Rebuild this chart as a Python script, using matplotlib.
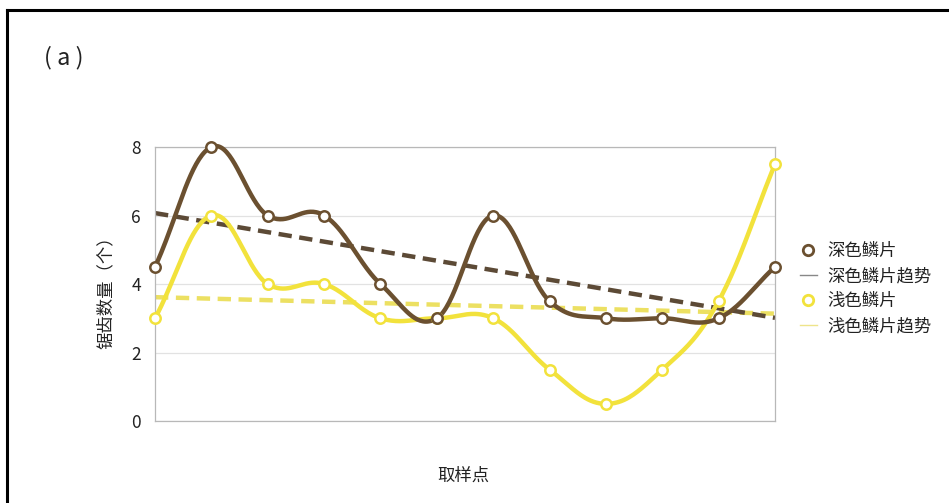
import numpy as np
import matplotlib
matplotlib.use("Agg")
import matplotlib.pyplot as plt
from matplotlib.lines import Line2D

plt.rcParams['font.family'] = ['Noto Sans CJK SC', 'DejaVu Sans']

# sampling points and counts
sample_points = np.arange(1, 13)
dark_scales = [4.5, 8, 6, 6, 4, 3, 6, 3.5, 3, 3, 3, 4.5]
light_scales = [3, 6, 4, 4, 3, 3, 3, 1.5, 0.5, 1.5, 3.5, 7.5]
y_ticks = [0, 2, 4, 6, 8]

series_names = ["深色鳞片", "深色鳞片趋势", "浅色鳞片", "浅色鳞片趋势"]
dark_color = "#6b5030"
dark_trend_color = "#5c4a36"
light_color = "#f2e23c"
light_trend_color = "#ece062"


def smooth_curve(x, y, n=40, k=0.19):
    """Cubic Bezier smoothing through every point (Catmull-Rom style)."""
    x = np.asarray(x, float)
    y = np.asarray(y, float)
    # reflected ghost points at both ends
    px = np.concatenate([[2 * x[0] - x[1]], x, [2 * x[-1] - x[-2]]])
    py = np.concatenate([[2 * y[0] - y[1]], y, [2 * y[-1] - y[-2]]])
    xs, ys = [], []
    t = np.linspace(0, 1, n)
    for i in range(len(x) - 1):
        pm = np.array([px[i], py[i]])
        p0 = np.array([px[i + 1], py[i + 1]])
        p3 = np.array([px[i + 2], py[i + 2]])
        pn = np.array([px[i + 3], py[i + 3]])
        p1 = p0 + (p3 - pm) * k
        p2 = p3 - (pn - p0) * k
        b = ((1 - t) ** 3)[:, None] * p0 + (3 * (1 - t) ** 2 * t)[:, None] * p1 \
            + (3 * (1 - t) * t ** 2)[:, None] * p2 + (t ** 3)[:, None] * p3
        xs.append(b[:, 0])
        ys.append(b[:, 1])
    return np.concatenate(xs), np.concatenate(ys)


fig = plt.figure(figsize=(9.49, 5.03), dpi=100)
ax = fig.add_axes([155 / 949, 1 - 421 / 503, 620 / 949, 274 / 503])

for vals, col, tcol in [(light_scales, light_color, light_trend_color),
                        (dark_scales, dark_color, dark_trend_color)]:
    k, b = np.polyfit(sample_points, vals, 1)
    tx = np.array([sample_points[0], sample_points[-1]], float)
    ax.plot(tx, k * tx + b, color=tcol, lw=3.2, dashes=(3.0, 1.7), zorder=2)

for vals, col in [(light_scales, light_color), (dark_scales, dark_color)]:
    sx, sy = smooth_curve(sample_points, vals)
    ax.plot(sx, sy, color=col, lw=3.2, solid_capstyle='round', zorder=3, clip_on=False)
    ax.plot(sample_points, vals, ls='none', marker='o', ms=7.5, mfc='white',
            mec=col, mew=1.8, zorder=4, clip_on=False)

ax.set_xlim(sample_points[0], sample_points[-1])
ax.set_ylim(0, 8)
ax.set_yticks(y_ticks)
ax.set_yticklabels([str(v) for v in y_ticks], fontsize=12.5, color="#222222")
ax.set_xticks([])
ax.tick_params(axis='y', length=0, pad=10)
ax.grid(axis='y', color="#e2e2e2", lw=0.9)
ax.set_axisbelow(True)
for s in ax.spines.values():
    s.set_color("#b8b8b8")
    s.set_linewidth(0.9)

fig.text(106 / 949, 1 - 288 / 503, "锯齿数量（个）", rotation=90, ha='center',
         va='center', fontsize=12.5, color="#222222")
fig.text(463 / 949, 1 - 476 / 503, "取样点", ha='center', va='center',
         fontsize=12.5, color="#222222")
fig.text(44 / 949, 1 - 58 / 503, "( a )", ha='left', va='center', fontsize=17,
         color="#222222")

handles = [
    Line2D([], [], ls='none', marker='o', ms=7.5, mfc='white', mec=dark_color, mew=2.0),
    Line2D([], [], color="#888888", lw=1.0),
    Line2D([], [], ls='none', marker='o', ms=7.5, mfc='white', mec=light_color, mew=2.0),
    Line2D([], [], color="#eee48a", lw=1.0),
]
fig.legend(handles, series_names, loc='upper left',
           bbox_to_anchor=(791 / 949, 1 - 233 / 503), frameon=False,
           fontsize=12.5, handlelength=1.0, handletextpad=0.6, labelspacing=0.42,
           borderpad=0, labelcolor="#222222")

# outer frame lines on the top and left
fig.add_artist(Line2D([6.5 / 949, 6.5 / 949], [0, 1 - 10 / 503], color='black',
                      lw=2.2, transform=fig.transFigure))
fig.add_artist(Line2D([6.5 / 949, 1], [1 - 10 / 503, 1 - 10 / 503], color='black',
                      lw=2.2, transform=fig.transFigure))

fig.savefig("out.png", dpi=100, facecolor='white')
